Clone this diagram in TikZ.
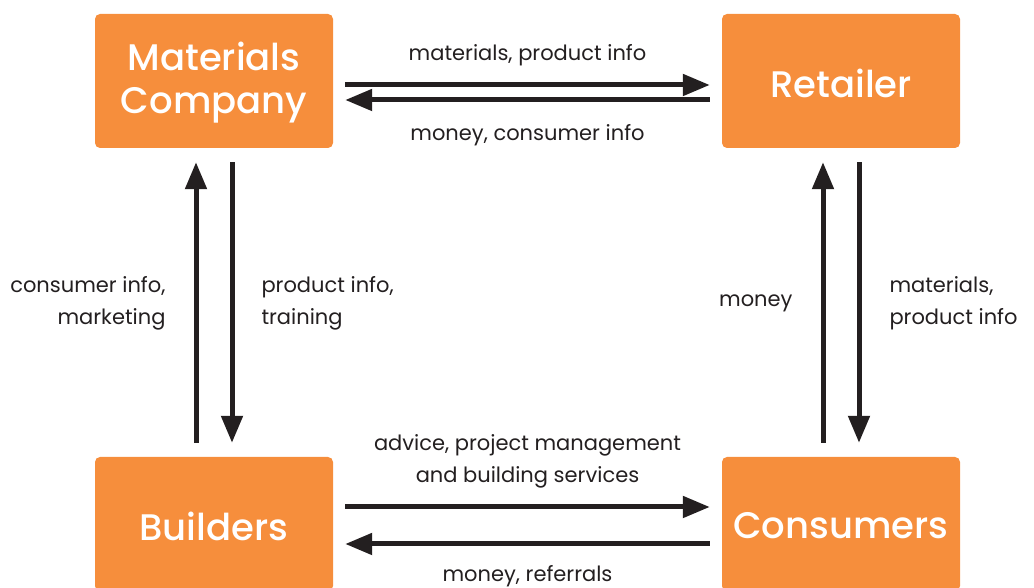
\documentclass[tikz,border=0pt]{standalone}
\usepackage{fontspec}
\setmainfont{Poppins}
\newfontfamily\boxfont{Poppins Medium}
\usetikzlibrary{arrows.meta,positioning,calc}
\definecolor{boxorange}{HTML}{F68E3C}
\definecolor{ink}{HTML}{231F20}

\begin{document}
\begin{tikzpicture}[x=1pt,y=1pt,
    party/.style={fill=boxorange, rounded corners=5pt, minimum width=238pt,
      minimum height=134pt, inner sep=0pt,
      label={[text=white, align=center, yshift=-2pt,
        font=\boxfont\fontsize{37}{43}\selectfont]center:#1}},
    flow/.style={ink, line width=5pt, -{Triangle[length=27pt,width=21pt]}},
    lbl/.style={text=ink, inner sep=0pt, font=\fontsize{21}{32}\selectfont}]
  \useasboundingbox (0,0) rectangle (1034,588);
  % the four parties
  \node[party={Materials\\Company}] (mat) at (214,507) {};
  \node[party=Retailer] (ret) at (841,507) {};
  \node[party=Builders] (bld) at (214,64) {};
  \node[party=Consumers] (con) at (841,64) {};
  % top pair
  \draw[flow, shorten <=12pt, shorten >=12pt] ([yshift=-4pt]mat.east) -- ([yshift=-4pt]ret.west)
    node[lbl, midway, yshift=30pt] (tr) {materials, product info};
  \draw[flow, shorten <=12pt, shorten >=12pt] ([yshift=-19pt]ret.west) -- ([yshift=-19pt]mat.east)
    node[lbl, midway, yshift=-35pt] (tl) {money, consumer info};
  % left pair
  \draw[flow, shorten <=14pt, shorten >=14pt] ([xshift=-18pt]bld.north) -- ([xshift=-18pt]mat.south)
    node[lbl, midway, anchor=east, xshift=-28pt, yshift=-1pt, align=right] (lu) {consumer info,\\marketing};
  \draw[flow, shorten <=14pt, shorten >=14pt] ([xshift=18pt]mat.south) -- ([xshift=18pt]bld.north)
    node[lbl, midway, anchor=west, xshift=27pt, yshift=-1pt, align=left] (ld) {product info,\\training};
  % right pair
  \draw[flow, shorten <=14pt, shorten >=14pt] ([xshift=-18pt]con.north) -- ([xshift=-18pt]ret.south)
    node[lbl, midway, anchor=east, xshift=-28pt, yshift=-1pt] (ru) {money};
  \draw[flow, shorten <=14pt, shorten >=14pt] ([xshift=18pt]ret.south) -- ([xshift=18pt]con.north)
    node[lbl, midway, anchor=west, xshift=28pt, yshift=-1pt, align=left] (rd) {materials,\\product info};
  % bottom pair
  \draw[flow, shorten <=12pt, shorten >=12pt] ([yshift=17pt]bld.east) -- ([yshift=17pt]con.west)
    node[lbl, midway, yshift=46pt, align=center] (br) {advice, project management\\and building services};
  \draw[flow, shorten <=12pt, shorten >=12pt] ([yshift=-20pt]con.west) -- ([yshift=-20pt]bld.east)
    node[lbl, midway, yshift=-32pt] (bl) {money, referrals};
\end{tikzpicture}
\end{document}
